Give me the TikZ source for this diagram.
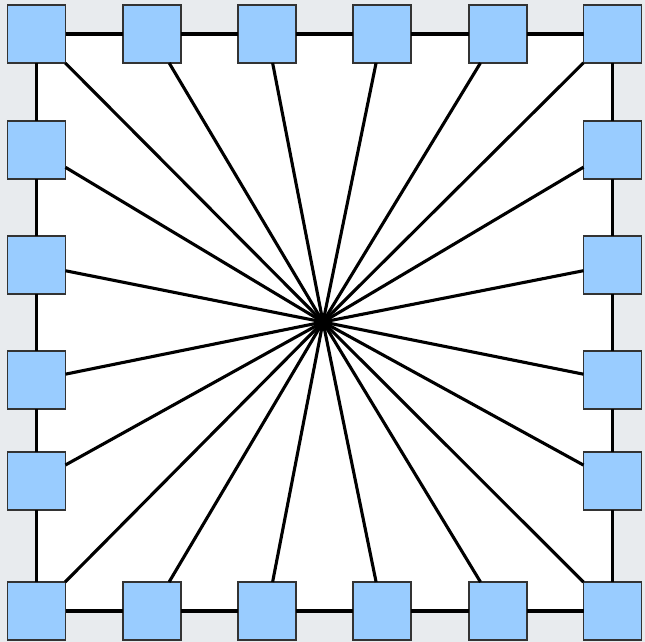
\documentclass[tikz,border=0pt]{standalone}
\begin{document}
\begin{tikzpicture}[x=1pt,y=-1pt,
  box/.style={draw=black!80, fill=boxblue, line width=1.7pt, minimum size=58pt, inner sep=0pt, outer sep=0pt},
  link/.style={line width=3.1pt, draw=black}]
\definecolor{boxblue}{HTML}{99CCFF}
\definecolor{bggray}{HTML}{E8EBEE}
\useasboundingbox (0,0) rectangle (645,642);
\fill[bggray] (0,0) rectangle (645,642);
\fill[white] (36,34) rectangle (612,611);
\coordinate (c) at (323,322);
% top row
\node[box] (t1) at (36.5,34) {};
\node[box] (t2) at (152,34) {};
\node[box] (t3) at (267,34) {};
\node[box] (t4) at (382,34) {};
\node[box] (t5) at (498,34) {};
\node[box] (t6) at (612.5,34) {};
% bottom row
\node[box] (b1) at (36.5,611) {};
\node[box] (b2) at (152,611) {};
\node[box] (b3) at (267,611) {};
\node[box] (b4) at (382,611) {};
\node[box] (b5) at (498,611) {};
\node[box] (b6) at (612.5,611) {};
% left column
\node[box] (l2) at (36.5,150) {};
\node[box] (l3) at (36.5,265) {};
\node[box] (l4) at (36.5,380) {};
\node[box] (l5) at (36.5,481) {};
% right column
\node[box] (r2) at (612.5,150) {};
\node[box] (r3) at (612.5,265) {};
\node[box] (r4) at (612.5,380) {};
\node[box] (r5) at (612.5,481) {};
% perimeter
\foreach \a/\b in {t1/t2,t2/t3,t3/t4,t4/t5,t5/t6,b1/b2,b2/b3,b3/b4,b4/b5,b5/b6,
  t1/l2,l2/l3,l3/l4,l4/l5,l5/b1,t6/r2,r2/r3,r3/r4,r4/r5,r5/b6}
  \draw[link] (\a) -- (\b);
% spokes
\foreach \n in {t1,t2,t3,t4,t5,t6,b1,b2,b3,b4,b5,b6,l2,l3,l4,l5,r2,r3,r4,r5}
  \draw[link] (\n) -- (c);
\end{tikzpicture}
\end{document}
